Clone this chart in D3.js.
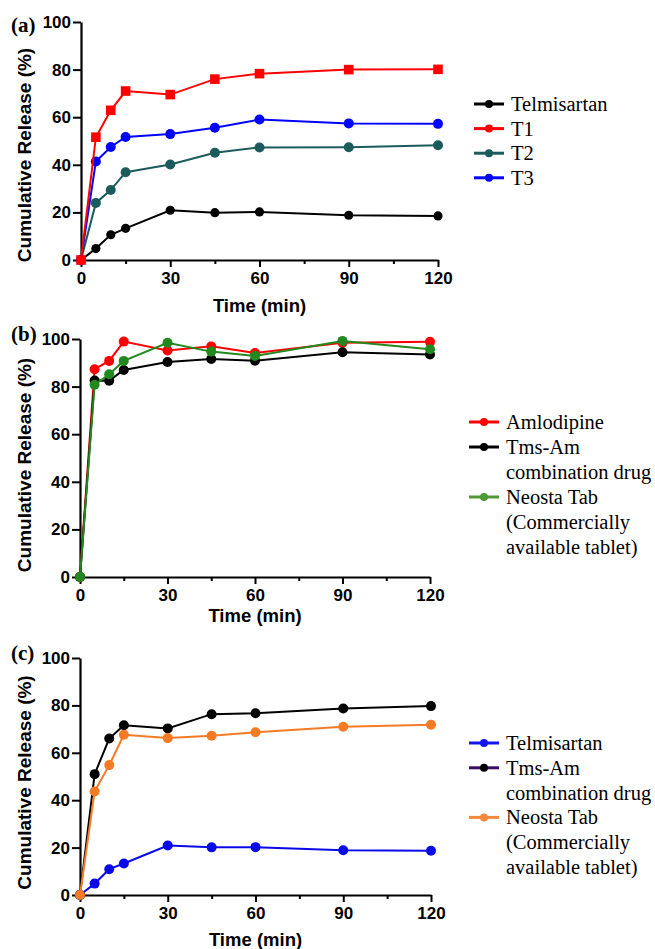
<!DOCTYPE html>
<html>
<head>
<meta charset="utf-8">
<script src="https://cdn.jsdelivr.net/npm/d3@7"></script>
<style>
  html, body { margin: 0; padding: 0; background: #fff; }
  svg { display: block; }
  .sans { font-family: Arial, "Liberation Sans", Helvetica, sans-serif; font-weight: bold; }
  .serif { font-family: "Times New Roman", "Liberation Serif", Times, serif; }
</style>
</head>
<body>
<svg id="chart" width="655" height="949"></svg>
<script>
// ---------- DATA ----------
const times = [0, 5, 10, 15, 30, 45, 60, 90, 120];
const xTickValues = [0, 15, 30, 45, 60, 75, 90, 105, 120];
const xTickLabels = [0, 30, 60, 90, 120];
const yTickValues = [0, 20, 40, 60, 80, 100];

// Panel (a)
const aTelmisartan = [0, 4.8, 10.6, 13.3, 20.9, 19.9, 20.2, 18.8, 18.5];
const aT1 = [0, 51.6, 62.9, 71.0, 69.5, 76.0, 78.3, 80.0, 80.1];
const aT2 = [0, 24.0, 29.4, 36.9, 40.1, 45.1, 47.3, 47.4, 48.2];
const aT3 = [0, 41.4, 47.5, 51.7, 52.9, 55.6, 59.0, 57.4, 57.2];

// Panel (b)
const bAmlodipine = [0, 87.3, 90.8, 98.9, 95.2, 96.9, 94.1, 98.4, 98.8];
const bTmsAm = [0, 82.6, 82.5, 87.0, 90.3, 91.6, 90.9, 94.4, 93.5];
const bNeosta = [0, 80.8, 85.2, 90.8, 98.4, 94.7, 92.9, 99.2, 95.7];

// Panel (c)
const cTelmisartan = [0, 4.8, 10.9, 13.3, 20.9, 20.1, 20.2, 18.9, 18.7];
const cTmsAm = [0, 51.0, 66.0, 71.6, 70.3, 76.3, 76.7, 78.7, 79.7];
const cNeosta = [0, 43.7, 54.8, 67.6, 66.2, 67.2, 68.7, 71.0, 71.8];

const legendA = ["Telmisartan", "T1", "T2", "T3"];
const legendB = [["Amlodipine"], ["Tms-Am", "combination drug"], ["Neosta Tab", "(Commercially", "available tablet)"]];
const legendC = [["Telmisartan"], ["Tms-Am", "combination drug"], ["Neosta Tab", "(Commercially", "available tablet)"]];

// ---------- DRAW ----------
const svg = d3.select("#chart");

const panels = [
  {
    label: "(a)", x0: 81, x1: 438, yTop: 22, yBot: 260, titleShift: 14, xTitleOff: 52, labelY: 32,
    series: [
      {vals: aTelmisartan, color: "#000000", shape: "circle", r: 4.6},
      {vals: aT2, color: "#1b5b5b", shape: "circle", r: 5},
      {vals: aT3, color: "#0000ff", shape: "circle", r: 5},
      {vals: aT1, color: "#ff0000", shape: "square", r: 4.8}
    ],
    legend: {x: 474, y: 104, lineStep: 24.6,
      items: [
        {lines: [legendA[0]], line: "#000000", dot: "#000000"},
        {lines: [legendA[1]], line: "#ff0000", dot: "#ff0000"},
        {lines: [legendA[2]], line: "#1b5b5b", dot: "#1b5b5b"},
        {lines: [legendA[3]], line: "#0000ff", dot: "#0000ff"}
      ]}
  },
  {
    label: "(b)", x0: 80, x1: 430, yTop: 339, yBot: 577, titleShift: 7, xTitleOff: 45, labelY: 341,
    series: [
      {vals: bAmlodipine, color: "#ff0000", shape: "circle", r: 5},
      {vals: bTmsAm, color: "#000000", shape: "circle", r: 5},
      {vals: bNeosta, color: "#23891e", shape: "circle", r: 5}
    ],
    legend: {x: 469, y: 422, lineStep: 25,
      items: [
        {lines: legendB[0], line: "#ff0000", dot: "#ff0000"},
        {lines: legendB[1], line: "#000000", dot: "#000000"},
        {lines: legendB[2], line: "#4f9a36", dot: "#4f9a36"}
      ]}
  },
  {
    label: "(c)", x0: 80, x1: 431, yTop: 658, yBot: 895, titleShift: 6, xTitleOff: 51, labelY: 660,
    series: [
      {vals: cTelmisartan, color: "#0a0ae6", shape: "circle", r: 5},
      {vals: cTmsAm, color: "#000000", shape: "circle", r: 5},
      {vals: cNeosta, color: "#f77a24", shape: "circle", r: 5}
    ],
    legend: {x: 469, y: 743, lineStep: 24.8,
      items: [
        {lines: legendC[0], line: "#1414f0", dot: "#1414f0"},
        {lines: legendC[1], line: "#3b0d62", dot: "#000000"},
        {lines: legendC[2], line: "#f58a3c", dot: "#f58a3c"}
      ]}
  }
];

panels.forEach(p => {
  const g = svg.append("g");
  const x = d3.scaleLinear().domain([0, 120]).range([p.x0, p.x1]);
  const y = d3.scaleLinear().domain([0, 100]).range([p.yBot, p.yTop]);

  const yAxis = d3.axisLeft(y).tickValues(yTickValues).tickSize(8).tickPadding(2).tickSizeOuter(0);
  const ya = g.append("g").attr("transform", `translate(${p.x0},0)`).call(yAxis);
  const xAxis = d3.axisBottom(x).tickValues(xTickValues).tickSize(7).tickPadding(5).tickSizeOuter(0)
    .tickFormat(d => xTickLabels.includes(d) ? d : "");
  const xa = g.append("g").attr("transform", `translate(0,${p.yBot})`).call(xAxis);
  // minor ticks are shorter
  xa.selectAll(".tick").filter(d => !xTickLabels.includes(d)).select("line").attr("y2", 4);

  [ya, xa].forEach(a => {
    a.attr("font-family", null).attr("font-size", null);
    a.select(".domain").attr("stroke", "#000").attr("stroke-width", 2.2);
    a.selectAll(".tick line").attr("stroke", "#000").attr("stroke-width", 2);
    a.selectAll(".tick text")
      .attr("class", "sans")
      .attr("fill", "#000")
      .style("font-size", "17px");
  });

  g.append("text")
    .attr("class", "sans")
    .attr("transform", `translate(24,${(p.yTop + p.yBot) / 2 + p.titleShift}) rotate(-90)`)
    .attr("text-anchor", "middle")
    .attr("dominant-baseline", "central")
    .style("font-size", "19px")
    .text("Cumulative Release (%)");

  g.append("text")
    .attr("class", "sans")
    .attr("x", (p.x0 + p.x1) / 2)
    .attr("y", p.yBot + p.xTitleOff)
    .attr("text-anchor", "middle")
    .style("font-size", "18.5px")
    .text("Time (min)");

  g.append("text")
    .attr("class", "serif")
    .attr("x", 11)
    .attr("y", p.labelY)
    .style("font-weight", "bold")
    .style("font-size", "21px")
    .text(p.label);

  const line = d3.line().x((d, i) => x(times[i])).y(d => y(d));
  p.series.forEach(s => {
    g.append("path")
      .datum(s.vals)
      .attr("d", line)
      .attr("fill", "none")
      .attr("stroke", s.color)
      .attr("stroke-width", 2);
    if (s.shape === "square") {
      g.selectAll(null).data(s.vals).enter().append("rect")
        .attr("x", (d, i) => x(times[i]) - s.r)
        .attr("y", d => y(d) - s.r)
        .attr("width", s.r * 2)
        .attr("height", s.r * 2)
        .attr("fill", s.color);
    } else {
      g.selectAll(null).data(s.vals).enter().append("circle")
        .attr("cx", (d, i) => x(times[i]))
        .attr("cy", d => y(d))
        .attr("r", s.r)
        .attr("fill", s.color);
    }
  });

  let row = 0;
  p.legend.items.forEach(it => {
    const cy = p.legend.y + row * p.legend.lineStep;
    g.append("line")
      .attr("x1", p.legend.x).attr("x2", p.legend.x + 30)
      .attr("y1", cy).attr("y2", cy)
      .attr("stroke", it.line).attr("stroke-width", 3);
    g.append("circle")
      .attr("cx", p.legend.x + 15).attr("cy", cy).attr("r", 4)
      .attr("fill", it.dot);
    it.lines.forEach((t, k) => {
      g.append("text")
        .attr("class", "serif")
        .attr("x", p.legend.x + 37)
        .attr("y", cy + k * p.legend.lineStep)
        .attr("dominant-baseline", "central")
        .style("font-size", "20.5px")
        .attr("fill", "#000")
        .text(t);
    });
    row += it.lines.length;
  });
});
</script>
</body>
</html>
